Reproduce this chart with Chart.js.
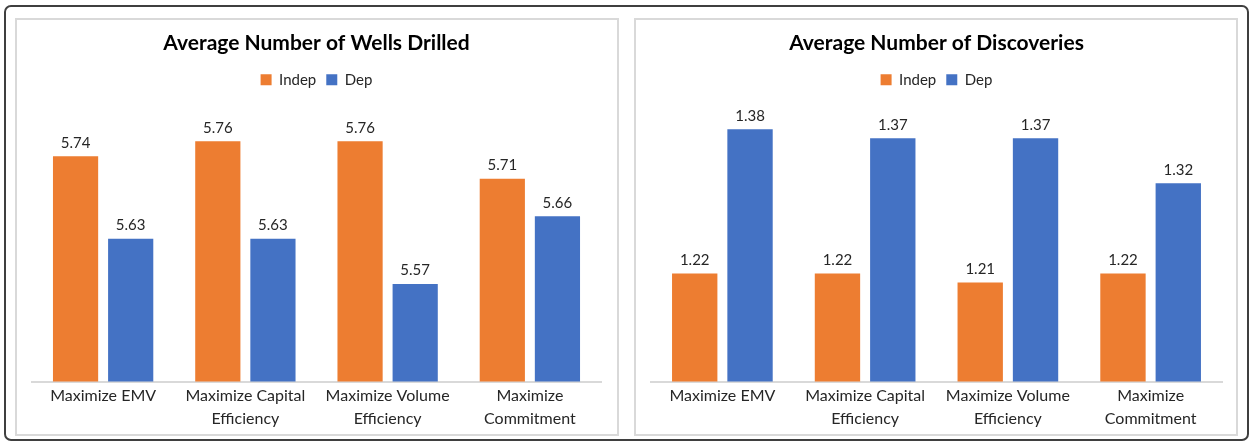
<!DOCTYPE html>
<html>
<head>
<meta charset="utf-8">
<script src="https://cdn.jsdelivr.net/npm/chart.js@4"></script>
<style>
  html, body { margin: 0; padding: 0; background: #fff; }
  body { width: 1251px; height: 444px; position: relative; overflow: hidden; }
  .frame { position: absolute; left: 4px; top: 5px; width: 1241px; height: 432px;
           border: 2px solid #3f3f3f; border-radius: 7px; }
  .box { position: absolute; top: 18px; width: 600px; height: 414px; border: 2px solid #d9d9d9; }
  #boxL { left: 15px; }
  #boxR { left: 634px; }
  canvas { display: block; }
</style>
</head>
<body>
<div class="frame"></div>
<div class="box" id="boxL"><canvas id="wells" width="600" height="414"></canvas></div>
<div class="box" id="boxR"><canvas id="disc" width="600" height="414"></canvas></div>
<script>
// Strategy categories shown on both charts
const categories = [
  ["Maximize EMV"],
  ["Maximize Capital", "Efficiency"],
  ["Maximize Volume", "Efficiency"],
  ["Maximize", "Commitment"]
];
const seriesNames = ["Indep", "Dep"];

// Average number of wells drilled
const wellsIndep = [5.74, 5.76, 5.76, 5.71];
const wellsDep = [5.63, 5.63, 5.57, 5.66];

// Average number of discoveries
const discIndep = [1.22, 1.22, 1.21, 1.22];
const discDep = [1.38, 1.37, 1.37, 1.32];

const ORANGE = "#ED7D31";
const BLUE = "#4472C4";
const FONT = "Lato, 'Open Sans', sans-serif";

// Writes each bar's value just above it
const valueLabels = {
  id: "valueLabels",
  afterDatasetsDraw(chart) {
    const ctx = chart.ctx;
    ctx.save();
    ctx.font = "15px " + FONT;
    ctx.fillStyle = "#262626";
    ctx.textAlign = "center";
    ctx.textBaseline = "bottom";
    chart.data.datasets.forEach((ds, i) => {
      chart.getDatasetMeta(i).data.forEach((bar, j) => {
        ctx.fillText(ds.data[j].toFixed(2), bar.x, bar.y - 6);
      });
    });
    ctx.restore();
  }
};

// Extra room beneath the legend
const legendGap = {
  id: "legendGap",
  beforeInit(chart) {
    const fit = chart.legend.fit;
    chart.legend.fit = function () {
      fit.bind(chart.legend)();
      this.height += 14;
    };
  }
};

function makeChart(id, title, indep, dep, yMin, yMax, padLeft, padRight) {
  return new Chart(document.getElementById(id), {
    type: "bar",
    data: {
      labels: categories,
      datasets: [
        { label: seriesNames[0], data: indep, backgroundColor: ORANGE },
        { label: seriesNames[1], data: dep, backgroundColor: BLUE }
      ]
    },
    options: {
      responsive: false,
      animation: false,
      devicePixelRatio: 1,
      categoryPercentage: 0.775,
      barPercentage: 0.82,
      layout: { padding: { left: padLeft, right: padRight, top: 0, bottom: 1 } },
      plugins: {
        title: {
          display: true,
          text: title,
          color: "#000",
          font: { family: FONT, size: 21, weight: "bold", lineHeight: 1.2 },
          padding: { top: 11, bottom: 6 }
        },
        legend: {
          display: true,
          position: "top",
          labels: {
            color: "#262626",
            font: { family: FONT, size: 15 },
            boxWidth: 11,
            boxHeight: 11,
            padding: 10
          }
        },
        tooltip: { enabled: false }
      },
      scales: {
        x: {
          grid: { display: false, drawTicks: false },
          border: { display: true, color: "#d9d9d9", width: 2 },
          ticks: {
            color: "#262626",
            font: { family: FONT, size: 16, lineHeight: 1.42 },
            padding: 3,
            maxRotation: 0,
            autoSkip: false
          }
        },
        y: { display: false, min: yMin, max: yMax }
      }
    },
    plugins: [valueLabels, legendGap]
  });
}

makeChart("wells", "Average Number of Wells Drilled", wellsIndep, wellsDep, 5.44, 5.80, 15, 16);
makeChart("disc", "Average Number of Discoveries", discIndep, discDep, 1.10, 1.40, 15, 14);
</script>
</body>
</html>
